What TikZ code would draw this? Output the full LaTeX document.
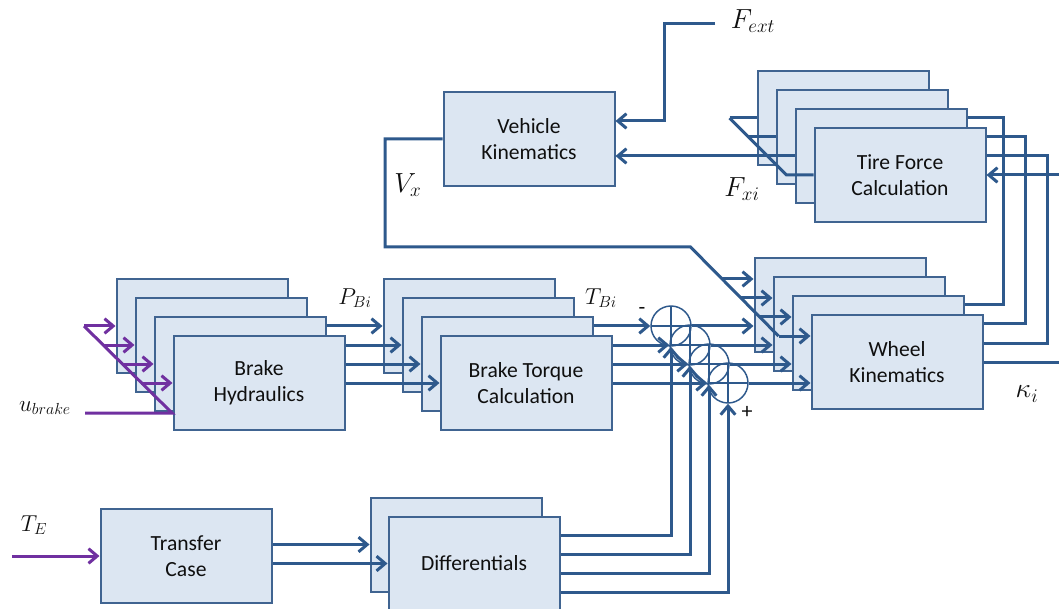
\documentclass[tikz,border=0pt]{standalone}
\usepackage{fontspec}
\setmainfont{Carlito}
\usetikzlibrary{arrows.meta,calc}
\definecolor{ln}{RGB}{46,89,140}
\definecolor{bd}{RGB}{64,100,145}
\definecolor{bf}{RGB}{220,230,242}
\definecolor{pu}{RGB}{112,48,160}
\definecolor{tx}{RGB}{15,15,15}
\begin{document}
\begin{tikzpicture}[x=0.75pt,y=-0.75pt,
  blk/.style={draw=bd,fill=bf,line width=1.5pt,minimum width=128.25pt,minimum height=70.5pt,inner sep=0pt,align=center,text=tx,font=\fontsize{16.2}{19.8}\selectfont},
  con/.style={draw=ln,line width=2.25pt},
  arr/.style={con,-{Straight Barb[length=6.5pt,width=11pt]}},
  pcon/.style={draw=pu,line width=2.25pt},
  parr/.style={pcon,-{Straight Barb[length=6.5pt,width=11pt]}},
  sum/.style={circle,draw=ln,line width=1.1pt,minimum size=30pt,inner sep=0pt,
    path picture={\draw[ln,line width=1.1pt] (path picture bounding box.north) -- (path picture bounding box.south) (path picture bounding box.west) -- (path picture bounding box.east);}},
  lab/.style={inner sep=0pt,text=tx,font=\fontsize{18}{21}\selectfont},
  biglab/.style={lab,font=\fontsize{20.5}{24}\selectfont},
  smlab/.style={lab,font=\fontsize{16.5}{19}\selectfont}]
\fill[white] (0,0) rectangle (1059,609);
\path[use as bounding box] (0,0) rectangle (1059,609);

% ---- boxes ----
\node[blk] (vk) at (529,139) {Vehicle\\Kinematics};
\node[blk] (tf1) at (843,118) {};
\node[blk] (tf2) at (862,137) {};
\node[blk] (tf3) at (881,156) {};
\node[blk] (tf4) at (900,175) {Tire Force\\Calculation};
\node[blk] (wk1) at (840,305) {};
\node[blk] (wk2) at (859,324) {};
\node[blk] (wk3) at (878,343) {};
\node[blk] (wk4) at (897,362) {Wheel\\Kinematics};
\node[blk] (bh1) at (202,326) {};
\node[blk] (bh2) at (221,345) {};
\node[blk] (bh3) at (240,364) {};
\node[blk] (bh4) at (259,383) {Brake\\Hydraulics};
\node[blk] (bt1) at (469,326) {};
\node[blk] (bt2) at (488,345) {};
\node[blk] (bt3) at (507,364) {};
\node[blk] (bt4) at (526,383) {Brake Torque\\Calculation};
\node[blk] (tc) at (186,556) {Transfer\\Case};
\node[blk] (df1) at (456,544.5) {};
\node[blk] (df2) at (474,563.5) {Differentials};

% ---- summing junctions ----
\node[sum] (s1) at (671,326) {};
\node[sum] (s2) at (690,345) {};
\node[sum] (s3) at (709,364) {};
\node[sum] (s4) at (728,383) {};

% ---- labels ----
\node[biglab] (lFext) at (753,21) {$F_{ext}$};
\node[biglab] (lVx) at (408,185) {$V_x$};
\node[biglab] (lFxi) at (742,189) {$F_{xi}$};
\node[lab] (lPB) at (355,298) {$P_{Bi}$};
\node[lab] (lTB) at (601,298) {$T_{Bi}$};
\node[smlab] (lminus) at (642,311) {-};
\node[smlab] (lplus) at (747,412) {+};
\node[lab,font=\fontsize{19.5}{22}\selectfont] (lkap) at (1027,394) {$\kappa_i$};
\node[smlab] (lub) at (45,408) {$u_{brake}$};
\node[smlab] (lTE) at (34,525) {$T_E$};

% ---- free ends ----
\coordinate (fe) at (715,24);
\coordinate (fe2) at (664,24);
\coordinate (r1) at (1003,0);
\coordinate (r2) at (1025,0);
\coordinate (r3) at (1047,0);
\coordinate (r4) at (1062,0);
\coordinate (vxa) at (385,247);
\coordinate (vxb) at (690.5,247);
\coordinate (ub) at (85,413);
\coordinate (ube) at (172,413);
\coordinate (te) at (12,556);

% ---- F_ext ----
\draw[arr] (fe) -- (fe2) |- ($(vk.east)+(0,-18)$);

% ---- F_xi bus ----
\draw[con] ($(tf1.west)+(-27,0)$) -- ($(tf4.west)+(-27,0)$) -- (tf4.west);
\draw[con] ($(tf1.west)+(-27,0)$) -- (tf1.west);
\draw[con] ($(tf2.west)+(-27,0)$) -- (tf2.west);
\draw[arr] (tf3.west) -- (vk.east |- tf3.west);

% ---- kappa feedback to tire force ----
\draw[con] (wk3.east |- wk1.center) -- (r1 |- wk1.center) -- (r1 |- tf1.center) -- (tf3.east |- tf1.center);
\draw[con] (wk4.east |- wk2.center) -- (r2 |- wk2.center) -- (r2 |- tf2.center) -- (tf4.east |- tf2.center);
\draw[con] (wk4.east |- wk3.center) -- (r3 |- wk3.center) -- (r3 |- tf3.center) -- (tf4.east |- tf3.center);
\draw[con] (wk4.east) -- (r4 |- wk4.center);
\draw[arr] (r4 |- tf4.center) -- (tf4.east);

% ---- V_x feedback ----
\draw[con] (vk.west) -| (vxa) -- (vxb) -- ($(wk4.west)+(-32,-26)$);
\foreach \k in {1,2,3,4}{
  \draw[arr] ($(wk\k.west)+(-32,-26)$) -- ($(wk\k.west)+(0,-26)$);
}

% ---- u_brake ----
\draw[pcon] (ub) -- (ube) -- ($(bh1.west)+(-31.5,0)$);
\foreach \k in {1,2,3,4}{
  \draw[parr] ($(bh\k.west)+(-31.5,0)$) -- (bh\k.west);
}

% ---- hydraulics -> torque ----
\draw[arr] (bh3.east |- bt1.west) -- (bt1.west);
\draw[arr] (bh4.east |- bt2.west) -- (bt2.west);
\draw[arr] (bh4.east |- bt3.west) -- (bt3.west);
\draw[arr] (bh4.east) -- (bt4.west);

% ---- torque -> sums ----
\draw[arr] (bt3.east |- s1.west) -- (s1.west);
\draw[arr] (bt4.east |- s2.west) -- (s2.west);
\draw[arr] (bt4.east |- s3.west) -- (s3.west);
\draw[arr] (bt4.east) -- (s4.west);

% ---- sums -> wheel ----
\draw[arr] (s1.east) -- (wk1.west |- s1.east);
\draw[arr] (s2.east) -- (wk2.west |- s2.east);
\draw[arr] (s3.east) -- (wk3.west |- s3.east);
\draw[arr] (s4.east) -- (wk4.west |- s4.east);

% ---- transfer case ----
\draw[parr] (te) -- (tc.west);
\draw[arr] (tc.east |- df1.west) -- (df1.west);
\draw[arr] (tc.east |- df2.west) -- (df2.west);

% ---- differentials -> sums ----
\draw[arr] ($(df2.east)+(0,-28.5)$) -| (s1.south);
\draw[arr] ($(df2.east)+(0,-9.5)$) -| (s2.south);
\draw[arr] ($(df2.east)+(0,9.5)$) -| (s3.south);
\draw[arr] ($(df2.east)+(0,28.5)$) -| (s4.south);
\end{tikzpicture}
\end{document}
